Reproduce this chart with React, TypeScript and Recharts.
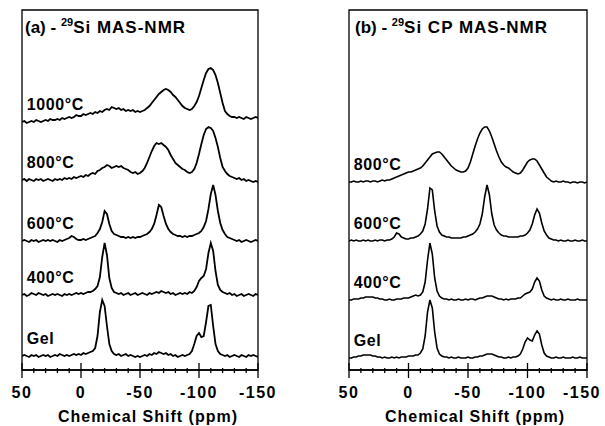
import React from 'react';
import { LineChart, Line, XAxis, YAxis, ReferenceArea, ReferenceDot } from 'recharts';

const FONT = '"Liberation Sans", Arial, Helvetica, sans-serif';

// chemical shift grid (ppm)
const SHIFTS = [
  50, 48, 46, 44, 42, 40, 38, 36, 34, 32,
  30, 28, 26, 24, 22, 20, 18, 16, 14, 12,
  10, 8, 6, 4, 2, 0, -2, -4, -6, -8,
  -10, -12, -14, -16, -18, -20, -22, -24, -26, -28,
  -30, -32, -34, -36, -38, -40, -42, -44, -46, -48,
  -50, -52, -54, -56, -58, -60, -62, -64, -66, -68,
  -70, -72, -74, -76, -78, -80, -82, -84, -86, -88,
  -90, -92, -94, -96, -98, -100, -102, -104, -106, -108,
  -110, -112, -114, -116, -118, -120, -122, -124, -126, -128,
  -130, -132, -134, -136, -138, -140, -142, -144, -146, -148,
  -150,
];

const TICKS = [50, 40, 30, 20, 10, 0, -10, -20, -30, -40, -50, -60, -70, -80, -90, -100, -110, -120, -130, -140, -150];
const MAJOR_TICKS = [50, 0, -50, -100, -150];
const AXIS_TITLE = 'Chemical Shift (ppm)';

// ---- panel (a) 29Si MAS-NMR ----
const LABELS_A = ['1000°C', '800°C', '600°C', '400°C', 'Gel'];
const OFFSETS_A = [248, 190, 129, 75, 14];

const A_1000 = [
  0, 1, -1, 0, 1, 0, 2, 1, 0, 1,
  2, 1, 3, 2, 2, 3, 2, 4, 3, 4,
  5, 4, 5, 7, 6, 6, 8, 7, 8, 9,
  8, 10, 9, 11, 10, 12, 13, 12, 15, 14,
  13, 14, 12, 13, 11, 12, 11, 12, 10, 11,
  10, 11, 12, 14, 16, 19, 22, 25, 28, 30,
  32, 33, 32, 30, 27, 25, 22, 19, 16, 14,
  13, 12, 13, 16, 20, 26, 34, 42, 49, 53,
  54, 52, 47, 39, 29, 19, 11, 8, 6, 5,
  5, 4, 5, 4, 3, 5, 4, 3, 4, 5,
  4,
];

const A_800 = [
  0, 1, -1, 1, 0, -1, 1, 0, 1, -1,
  0, 1, 0, -1, 1, 0, 1, 0, 2, 1,
  2, 1, 3, 2, 3, 4, 3, 5, 4, 6,
  7, 6, 9, 10, 12, 13, 15, 14, 12, 13,
  14, 13, 14, 12, 11, 10, 8, 7, 8, 6,
  7, 9, 12, 17, 23, 29, 34, 37, 36, 37,
  35, 33, 30, 25, 21, 17, 15, 13, 11, 10,
  8, 7, 8, 11, 17, 26, 36, 45, 51, 53,
  52, 49, 42, 33, 22, 13, 9, 6, 4, 3,
  2, 1, 2, 0, 1, -1, 0, -1, -2, -1,
  -2,
];

const A_600 = [
  0, 1, 0, -1, 1, 0, 1, -1, 0, 1,
  0, 1, 0, 1, 0, -1, 1, 0, 1, 2,
  3, 5, 4, 2, 1, 1, 2, 1, 2, 3,
  4, 5, 8, 12, 19, 30, 27, 17, 10, 7,
  6, 5, 4, 4, 3, 4, 3, 4, 3, 4,
  4, 5, 6, 7, 9, 12, 17, 26, 36, 34,
  25, 17, 12, 9, 7, 6, 5, 5, 4, 5,
  4, 5, 5, 6, 7, 8, 10, 14, 20, 32,
  47, 56, 46, 30, 18, 11, 7, 4, 3, 2,
  1, 0, 1, -1, 0, 1, 0, -1, 0, 1,
  0,
];

const A_400 = [
  0, 1, -1, 0, 2, 1, 0, 2, 1, 0,
  1, -1, 0, 1, 0, 1, 0, -1, 1, 0,
  1, 0, 1, 2, 1, 2, 1, 2, 3, 3,
  4, 6, 9, 18, 38, 52, 40, 17, 7, 3,
  2, 1, 2, 0, 1, 2, 0, 1, 2, 0,
  1, 2, 1, 0, 2, 1, 2, 3, 2, 4,
  3, 2, 3, 1, 2, 0, 1, 2, 1, 2,
  1, 3, 2, 4, 8, 14, 17, 19, 26, 42,
  52, 44, 24, 10, 5, 3, 2, 1, 2, 0,
  1, -1, 0, 1, -1, 0, 1, 0, -1, 1,
  0,
];

const A_GEL = [
  0, 1, 0, -1, 1, 0, 1, -1, 0, 1,
  0, 1, -1, 0, 1, 0, 2, 1, 0, 1,
  0, 1, 2, 1, 2, 1, 3, 2, 3, 4,
  5, 8, 20, 44, 56, 50, 30, 12, 5, 2,
  1, 2, 0, 1, 2, 0, 1, 0, -1, 0,
  -1, 0, 1, 0, 2, 1, 3, 2, 4, 3,
  2, 3, 1, 2, 0, 1, -1, 0, 1, 0,
  1, 2, 5, 12, 20, 23, 19, 20, 34, 50,
  51, 30, 12, 5, 2, 1, 0, 1, -1, 0,
  1, 0, -1, 1, 0, -1, 1, 0, 1, 0,
  -1,
];

// ---- panel (b) 29Si CP MAS-NMR ----
const LABELS_B = ['800°C', '600°C', '400°C', 'Gel'];
const OFFSETS_B = [188, 129, 70, 12];

const B_800 = [
  0, 0, 1, 0, 0, 1, 0, 1, 1, 0,
  1, 1, 0, 1, 2, 1, 2, 2, 3, 4,
  5, 6, 7, 8, 9, 10, 10, 11, 12, 13,
  14, 16, 19, 22, 25, 28, 29, 30, 30, 28,
  25, 22, 19, 16, 14, 12, 11, 10, 10, 11,
  14, 20, 28, 36, 43, 49, 53, 55, 55, 51,
  45, 38, 31, 25, 20, 17, 15, 14, 12, 10,
  9, 8, 9, 12, 16, 20, 22, 23, 23, 21,
  17, 13, 9, 5, 3, 1, 0, 1, 0, 0,
  1, 0, 0, -1, 0, 0, -1, 0, 0, -1,
  0,
];

const B_600 = [
  0, 1, 0, 1, 0, 0, 1, 0, 1, 0,
  0, 1, 0, 1, 1, 0, 1, 1, 2, 4,
  8, 7, 4, 3, 2, 2, 3, 3, 4, 5,
  7, 10, 17, 32, 53, 51, 30, 15, 9, 6,
  5, 4, 4, 3, 3, 3, 3, 3, 4, 4,
  5, 6, 7, 9, 12, 17, 27, 44, 56, 46,
  27, 16, 11, 8, 6, 5, 5, 4, 4, 4,
  4, 4, 5, 5, 6, 8, 11, 17, 26, 32,
  28, 18, 10, 6, 3, 2, 1, 1, 0, 1,
  0, 0, 1, 0, 0, 1, 0, 0, 1, 0,
  0,
];

const B_400 = [
  0, 0, 1, 1, 1, 2, 2, 3, 3, 3,
  3, 2, 2, 1, 1, 0, 0, 1, 0, 0,
  1, 1, 1, 2, 2, 2, 3, 4, 5, 4,
  5, 8, 18, 40, 57, 46, 22, 9, 4, 2,
  1, 1, 0, 1, 0, 0, 1, 0, 0, 1,
  0, 1, 1, 0, 1, 2, 2, 3, 4, 4,
  4, 3, 2, 1, 1, 0, 1, 0, 1, 1,
  1, 2, 2, 4, 6, 7, 8, 11, 18, 22,
  19, 10, 4, 2, 1, 0, 1, 0, 0, 1,
  0, 0, 1, 0, 0, 0, 1, 0, 0, 0,
  0,
];

const B_GEL = [
  0, 0, 1, 1, 2, 2, 3, 3, 3, 3,
  2, 2, 1, 1, 0, 1, 0, 0, 1, 0,
  1, 0, 1, 1, 1, 2, 2, 2, 3, 3,
  5, 9, 22, 46, 58, 50, 26, 10, 4, 2,
  1, 1, 0, 1, 0, 0, 1, 0, 0, 0,
  1, 0, 0, 1, 1, 2, 2, 3, 4, 4,
  4, 3, 2, 1, 1, 0, 0, 1, 0, 1,
  1, 2, 4, 9, 16, 20, 18, 17, 23, 27,
  24, 13, 5, 2, 1, 0, 0, 1, 0, 0,
  1, 0, 0, 0, 1, 0, 0, 1, 0, 0,
  0,
];

const SPECTRA_A = [A_1000, A_800, A_600, A_400, A_GEL];
const SPECTRA_B = [B_800, B_600, B_400, B_GEL];

const LABEL_LIFT = 18;

function buildRows(spectra: number[][], offsets: number[]) {
  return SHIFTS.map((shift, i) => {
    const row: Record<string, number> = { shift };
    spectra.forEach((s, k) => {
      row['s' + k] = offsets[k] + s[i];
    });
    return row;
  });
}

const AxisTick = (props: any) => {
  const { x, y, payload, lastDx } = props;
  const major = MAJOR_TICKS.includes(payload.value);
  const dx = payload.value === -150 ? lastDx : 0;
  return (
    <g>
      <line x1={x} x2={x} y1={y - (major ? 7 : 2)} y2={y + (major ? 8 : 3)} stroke="#000" strokeWidth={1.3} />
      {major && (
        <text x={x + dx} y={y + 28} textAnchor="middle" fontFamily={FONT} fontSize={16} fontWeight="bold" letterSpacing={1.5} fill="#000">
          {String(payload.value)}
        </text>
      )}
    </g>
  );
};

function Panel(props: {
  left: number;
  width: number;
  margin: { top: number; right: number; bottom: number; left: number };
  spectra: number[][];
  offsets: number[];
  labels: string[];
  strokeWidth: number;
  titleDx: number;
  lastDx: number;
}) {
  const { left, width, margin, spectra, offsets, labels, strokeWidth, titleDx, lastDx } = props;
  const data = buildRows(spectra, offsets);
  return (
    <div style={{ position: 'absolute', left, top: 0 }}>
      <LineChart width={width} height={426} data={data} margin={margin}>
        <XAxis
          type="number"
          dataKey="shift"
          domain={[-150, 50]}
          reversed
          ticks={TICKS}
          interval={0}
          allowDataOverflow
          tickLine={false}
          tickSize={0}
          tickMargin={0}
          height={56}
          axisLine={{ stroke: '#000', strokeWidth: 1.3 }}
          tick={(p: any) => <AxisTick {...p} lastDx={lastDx} />}
          label={{
            value: AXIS_TITLE,
            position: 'insideBottom',
            offset: 4,
            dx: titleDx,
            fill: '#000',
            fontSize: 16,
            fontWeight: 'bold',
            fontFamily: FONT,
            letterSpacing: 1,
          }}
        />
        <YAxis type="number" domain={[0, 360]} hide width={0} allowDataOverflow />
        <ReferenceArea x1={-150} x2={50} y1={0} y2={360} fill="none" fillOpacity={0} stroke="#000" strokeWidth={1.3} />
        {spectra.map((_, k) => (
          <Line
            key={'line' + k}
            type="linear"
            dataKey={'s' + k}
            stroke="#000"
            strokeWidth={strokeWidth}
            dot={false}
            activeDot={false}
            isAnimationActive={false}
          />
        ))}
        {labels.map((lab, k) => (
          <ReferenceDot
            key={'lab' + k}
            x={46}
            y={offsets[k] + LABEL_LIFT}
            r={0}
            fill="none"
            stroke="none"
            label={{
              value: lab,
              position: 'right',
              offset: 0,
              fill: '#000',
              fontSize: 16,
              fontWeight: 'bold',
              fontFamily: FONT,
              letterSpacing: 0.6,
            }}
          />
        ))}
      </LineChart>
    </div>
  );
}

export default function App() {
  return (
    <div style={{ position: 'absolute', left: 0, top: 0, width: 605, height: 426, background: '#fff', overflow: 'hidden' }}>
      <Panel
        left={0}
        width={300}
        margin={{ top: 10, right: 42, bottom: 0, left: 22 }}
        spectra={SPECTRA_A}
        offsets={OFFSETS_A}
        labels={LABELS_A}
        strokeWidth={1.8}
        titleDx={8}
        lastDx={0}
      />
      <Panel
        left={300}
        width={305}
        margin={{ top: 10, right: 18, bottom: 0, left: 49 }}
        spectra={SPECTRA_B}
        offsets={OFFSETS_B}
        labels={LABELS_B}
        strokeWidth={1.6}
        titleDx={7}
        lastDx={-5}
      />
      <svg width={605} height={426} style={{ position: 'absolute', left: 0, top: 0, pointerEvents: 'none' }}>
        <text x={25} y={33} fontFamily={FONT} fontWeight="bold" fontSize={17} fill="#000" style={{ whiteSpace: 'pre' }}>
          <tspan>(a) - </tspan>
          <tspan fontSize={11} dy={-7}>29</tspan>
          <tspan dy={7} letterSpacing={1}>Si MAS-NMR</tspan>
        </text>
        <text x={355} y={33} fontFamily={FONT} fontWeight="bold" fontSize={17} fill="#000" style={{ whiteSpace: 'pre' }}>
          <tspan>(b) - </tspan>
          <tspan fontSize={11} dy={-7}>29</tspan>
          <tspan dy={7} letterSpacing={1}>Si CP MAS-NMR</tspan>
        </text>
      </svg>
    </div>
  );
}
